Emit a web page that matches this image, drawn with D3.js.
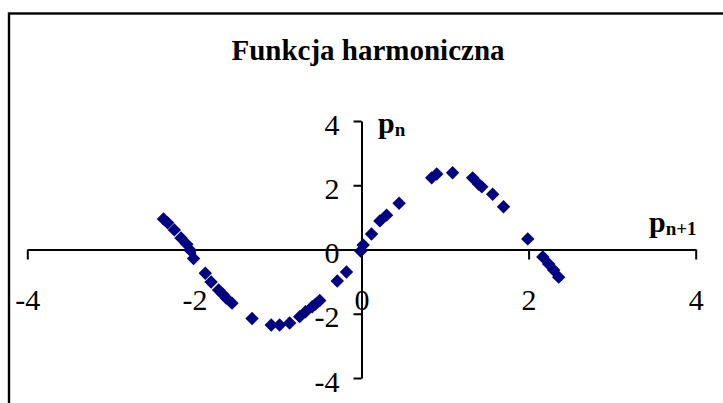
<!DOCTYPE html>
<html>
<head>
<meta charset="utf-8">
<script src="https://cdn.jsdelivr.net/npm/d3@7"></script>
<style>
  html, body { margin: 0; padding: 0; background: #fff; }
  svg { display: block; }
  svg text { font-family: "Liberation Serif", "Times New Roman", Times, serif !important; }
</style>
</head>
<body>
<svg id="chart" width="723" height="403"></svg>
<script>
// Harmonic function: phase-space samples (p_{n+1}, p_n)
const pNext = [-2.37, -2.32, -2.24, -2.16, -2.09, -2.05, -2.01, -1.87, -1.80, -1.71,
               -1.66, -1.62, -1.55, -1.31, -1.08, -0.98, -0.86, -0.74, -0.67, -0.59,
               -0.55, -0.50, -0.29, -0.18, -0.01, 0.02, 0.12, 0.22, 0.30, 0.45,
               0.84, 0.90, 1.09, 1.33, 1.40, 1.44, 1.57, 1.70, 1.99, 2.17,
               2.24, 2.30, 2.36];
const pCur  = [0.95, 0.83, 0.61, 0.36, 0.16, -0.02, -0.28, -0.74, -1.01, -1.26,
               -1.39, -1.51, -1.67, -2.15, -2.35, -2.35, -2.29, -2.09, -1.94, -1.78,
               -1.70, -1.59, -0.98, -0.70, -0.05, 0.14, 0.48, 0.89, 1.07, 1.44,
               2.23, 2.35, 2.39, 2.23, 2.04, 1.95, 1.72, 1.33, 0.33, -0.23,
               -0.45, -0.64, -0.86];
const xTicks = [-4, -2, 0, 2, 4];
const yTicks = [-4, -2, 0, 2, 4];
const titleText = "Funkcja harmoniczna";

const serif = '"Liberation Serif", "Times New Roman", Times, serif';
const svg = d3.select("#chart");

// Chart area border
svg.append("rect")
  .attr("x", 9).attr("y", 13.5)
  .attr("width", 740).attr("height", 420)
  .attr("fill", "#fff").attr("stroke", "#000").attr("stroke-width", 2.4);

svg.append("text")
  .attr("x", 368).attr("y", 59.5)
  .attr("text-anchor", "middle")
  .style("font-family", serif)
  .attr("font-size", 29).attr("font-weight", "bold")
  .text(titleText);

const x = d3.scaleLinear().domain([-4, 4]).range([27.3, 695.7]);
const y = d3.scaleLinear().domain([-4, 4]).range([378, 121]);
const fmt = d => String(d);

// Horizontal axis through y = 0
const gx = svg.append("g")
  .attr("transform", `translate(0,${y(0)})`)
  .call(d3.axisBottom(x).tickValues(xTicks).tickSize(10).tickSizeOuter(0).tickFormat(fmt));
gx.attr("font-family", null);
gx.selectAll(".tick text").attr("y", 60).attr("dy", 0)
  .attr("font-size", 30).attr("fill", "#000")
  .style("font-family", serif);

// Vertical axis through x = 0
const gy = svg.append("g")
  .attr("transform", `translate(${x(0)},0)`)
  .call(d3.axisLeft(y).tickValues(yTicks).tickSize(8).tickSizeOuter(0).tickFormat(fmt));
gy.attr("font-family", null);
gy.selectAll(".tick text").attr("x", -22).attr("dy", 13)
  .attr("font-size", 30).attr("fill", "#000")
  .style("font-family", serif);

svg.selectAll(".domain, .tick line").attr("stroke", "#000").attr("stroke-width", 2);

// Axis titles with subscripts
function axisTitle(px, py, sub) {
  const t = svg.append("text").attr("x", px).attr("y", py)
    .style("font-family", serif)
    .attr("font-weight", "bold").attr("font-size", 30);
  t.append("tspan").text("p");
  t.append("tspan").attr("font-size", 19).attr("dy", 3).text(sub);
}
axisTitle(378, 133, "n");
axisTitle(649, 232, "n+1");

// Markers: navy diamonds
const diamond = d3.symbol().type(d3.symbolSquare).size(90);
svg.append("g").selectAll("path")
  .data(pNext.map((v, i) => [v, pCur[i]]))
  .join("path")
  .attr("d", diamond)
  .attr("transform", d => `translate(${x(d[0])},${y(d[1])}) rotate(45)`)
  .attr("fill", "#000080");
</script>
</body>
</html>
